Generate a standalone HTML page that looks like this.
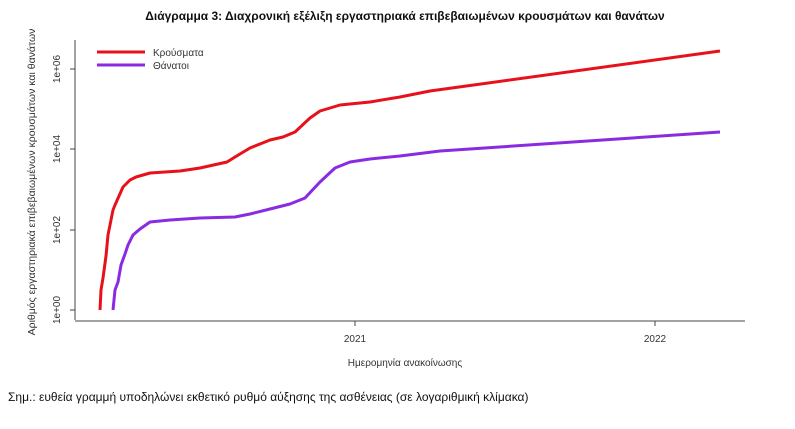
<!DOCTYPE html><html><head><style>body{margin:0;background:#fff;}</style></head><body>
<svg width="795" height="424" xmlns="http://www.w3.org/2000/svg" style="font-family:'Liberation Sans','DejaVu Sans',sans-serif">
<text x="405" y="20" text-anchor="middle" font-size="12" font-weight="bold" fill="#111">Διάγραμμα 3: Διαχρονική εξέλιξη εργαστηριακά επιβεβαιωμένων κρουσμάτων και θανάτων</text>
<g stroke="#444" stroke-width="1" fill="none">
<path d="M75,40V320"/><path d="M75,321H745"/>
<path d="M70,69H75M70,149H75M70,230H75M70,310H75"/>
<path d="M355,321V326M655,321V326"/>
</g>
<g font-size="10" fill="#333">
<text transform="translate(60,69) rotate(-90)" text-anchor="middle">1e+06</text>
<text transform="translate(60,149) rotate(-90)" text-anchor="middle">1e+04</text>
<text transform="translate(60,230) rotate(-90)" text-anchor="middle">1e+02</text>
<text transform="translate(60,310) rotate(-90)" text-anchor="middle">1e+00</text>
<text x="355" y="342" text-anchor="middle">2021</text>
<text x="655" y="342" text-anchor="middle">2022</text>
<text x="405" y="366" text-anchor="middle" font-size="10">Ημερομηνία ανακοίνωσης</text>
<text transform="translate(35,182) rotate(-90)" text-anchor="middle" font-size="10.5">Αριθμός εργαστηριακά επιβεβαιωμένων κρουσμάτων και θανάτων</text>
</g>
<text x="8" y="401" font-size="12" fill="#111">Σημ.: ευθεία γραμμή υποδηλώνει εκθετικό ρυθμό αύξησης της ασθένειας (σε λογαριθμική κλίμακα)</text>
<path d="M97,52H145" stroke="#e8101a" stroke-width="3"/>
<path d="M97,65H145" stroke="#8a2be2" stroke-width="3"/>
<text x="153" y="56" font-size="10" fill="#333">Κρούσματα</text>
<text x="153" y="69" font-size="10" fill="#333">Θάνατοι</text>
<path fill="none" stroke="#e8101a" stroke-width="3" stroke-linejoin="round" d="M100,310L101,290L103,278L106,256L108,235L113,210L115,205L119,196L123,187L127,183L130,180L136,177L150,173L180,171L200,168L227,162L235,157L250,148L270,140L283,137L295,132L310,118L320,111L340,105L370,102L400,97L430,91L720,51"/>
<path fill="none" stroke="#8a2be2" stroke-width="3" stroke-linejoin="round" d="M113,310L115,290L118,282L121,265L125,254L128,245L133,235L140,229L150,222L170,220L200,218L235,217L250,214L270,209L290,204L305,198L320,182L335,168L350,162L370,159L400,156L440,151L720,132"/>
</svg></body></html>
